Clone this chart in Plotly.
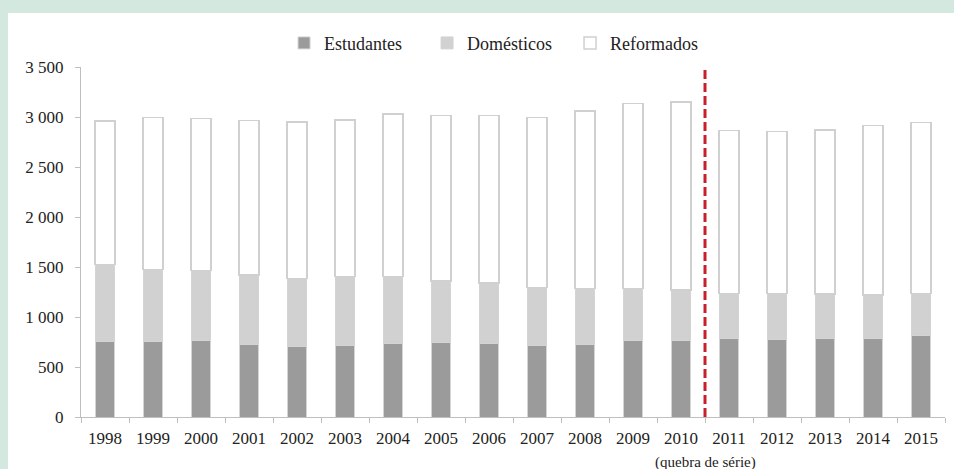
import plotly.graph_objects as go

years = ["1998", "1999", "2000", "2001", "2002", "2003", "2004", "2005", "2006",
         "2007", "2008", "2009", "2010", "2011", "2012", "2013", "2014", "2015"]
estudantes = [754, 757, 764, 730, 707, 720, 740, 744, 740, 720, 727, 764, 764, 790, 777, 787, 784, 814]
domesticos = [772, 720, 700, 690, 680, 684, 664, 616, 600, 574, 557, 520, 506, 447, 460, 443, 436, 423]
reformados = [1434, 1517, 1523, 1544, 1563, 1566, 1626, 1657, 1674, 1703, 1776, 1850, 1880, 1627, 1620, 1640, 1694, 1707]

y_tickvals = [0, 500, 1000, 1500, 2000, 2500, 3000, 3500]
y_ticktext = ["0", "500", "1 000", "1 500", "2 000", "2 500", "3 000", "3 500"]

break_year = "2011"
break_label = "(quebra de série)"
break_line_top = 3470

FONT = "Liberation Serif"
TXT = "#222222"
GREEN = "#d3e9df"

# green frame: 8px on the left, 13px on top (page background), white figure inside
FRAME_L, FRAME_T = 8, 13
W, H = 954 - FRAME_L, 469 - FRAME_T
ML, MR, MT, MB = 81 - FRAME_L, 9, 67 - FRAME_T, 52

fig = go.Figure()
fig.add_trace(go.Bar(x=years, y=estudantes, name="Estudantes",
                     marker=dict(color="#9b9b9b", line=dict(color="#d4d4d4", width=1))))
fig.add_trace(go.Bar(x=years, y=domesticos, name="Domésticos",
                     marker=dict(color="#d1d1d1", line=dict(color="#d4d4d4", width=1))))
fig.add_trace(go.Bar(x=years, y=reformados, name="Reformados",
                     marker=dict(color="#ffffff", line=dict(color="#d0d0d0", width=1.5))))

bx = years.index(break_year) - 0.5

fig.update_layout(
    barmode="stack",
    bargap=0.585,
    width=W, height=H,
    margin=dict(l=ML, r=MR, t=MT, b=MB),
    paper_bgcolor="white",
    plot_bgcolor="white",
    font=dict(family=FONT, color=TXT, size=17),
    legend=dict(orientation="h", x=0.235, xanchor="left", y=1.068, yanchor="middle",
                font=dict(family=FONT, size=18, color=TXT),
                entrywidth=98, bgcolor="rgba(0,0,0,0)", traceorder="normal"),
    shapes=[
        dict(type="line", xref="x", yref="y", x0=bx, x1=bx, y0=0, y1=break_line_top,
             line=dict(color="#c8202a", width=3, dash="9px,4px")),
    ],
    annotations=[
        dict(x=bx, xref="x", y=-0.13, yref="paper", text=break_label, showarrow=False,
             font=dict(family=FONT, size=15, color=TXT), yanchor="middle", xanchor="center"),
    ],
)

fig.update_xaxes(type="category", showline=True, linecolor="#bfbfbf", linewidth=1,
                 ticks="outside", tickson="boundaries", ticklen=5, tickcolor="#bfbfbf",
                 ticklabelstandoff=6,
                 showgrid=False, tickfont=dict(family=FONT, size=17, color=TXT))
fig.update_yaxes(range=[0, 3500], tickvals=y_tickvals, ticktext=y_ticktext,
                 showline=True, linecolor="#bfbfbf", linewidth=1, ticks="outside",
                 ticklen=5, tickcolor="#bfbfbf", showgrid=False, zeroline=False,
                 ticklabelstandoff=8,
                 tickfont=dict(family=FONT, size=17, color=TXT))

post = (
    "document.documentElement.style.background='%s';"
    "document.body.style.background='%s';"
    "document.body.style.margin='%dpx 0px 0px %dpx';"
    "document.body.style.overflow='hidden';"
) % (GREEN, GREEN, FRAME_T, FRAME_L)

fig.write_html("out.html", config={"displayModeBar": False}, post_script=post)
